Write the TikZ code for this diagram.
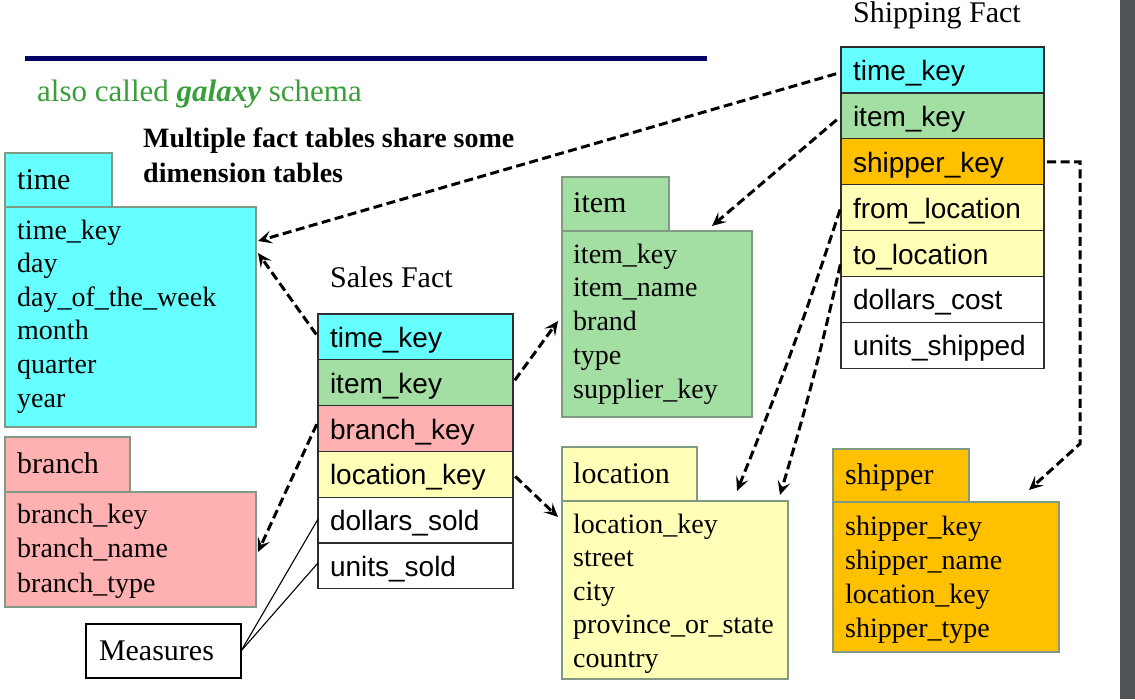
\documentclass[tikz,border=0pt]{standalone}
\usepackage{fontspec}
\setmainfont{Liberation Serif}
\setsansfont{Liberation Sans}
\usetikzlibrary{arrows.meta,calc}
\definecolor{cyanc}{HTML}{66FFFF}
\definecolor{greenc}{HTML}{A3DEA3}
\definecolor{pinkc}{HTML}{FFB0B0}
\definecolor{yellowc}{HTML}{FFFFB8}
\definecolor{orangec}{HTML}{FFC000}
\definecolor{dimborder}{HTML}{809A86}
\definecolor{factborder}{HTML}{2E2E2E}
\definecolor{navyc}{HTML}{000066}
\definecolor{titlegreen}{HTML}{3A9E3A}
\definecolor{stripgray}{HTML}{505457}
\tikzset{
  dimbox/.style={draw=dimborder, line width=2.5pt, anchor=north west, inner sep=0pt, outer sep=0pt},
  dimtitle/.style={anchor=base west, inner sep=0pt, font=\fontsize{30}{36}\selectfont},
  dimrow/.style={anchor=base west, inner sep=0pt, font=\fontsize{28}{34}\selectfont},
  factrow/.style={draw=factborder, line width=1.3pt, anchor=north west, inner xsep=12pt, inner ysep=0pt,
    outer sep=0pt, text width=171pt, align=left, minimum height=45.8pt, text height=21pt, text depth=0pt,
    font=\sffamily\fontsize{28}{34}\selectfont},
  shiprow/.style={factrow, text width=179pt, minimum height=45.9pt},
  facttitle/.style={anchor=base west, inner sep=0pt, font=\fontsize{30}{36}\selectfont},
  fk/.style={draw=black, line width=3pt, dash pattern=on 9pt off 4.5pt,
    -{Stealth[length=14pt,width=13pt,inset=6pt]}, shorten <=3pt},
  measline/.style={draw=black, line width=1.1pt}
}
\begin{document}
\begin{tikzpicture}[x=1pt,y=-1pt]
\useasboundingbox (0,0) rectangle (1135,699);
\fill[white] (0,0) rectangle (1135,699);
\fill[stripgray] (1120,0) rectangle (1135,699);
% header
\fill[navyc] (25,56) rectangle (707,61);
\node[anchor=base west, inner sep=0pt, text=titlegreen, font=\fontsize{31}{36}\selectfont] (galaxy) at (37,101) {also called \textbf{\textit{galaxy}} schema};
\node[anchor=base west, inner sep=0pt, font=\bfseries\fontsize{28}{35}\selectfont] (multi1) at (143,147) {Multiple fact tables share some};
\node[anchor=base west, inner sep=0pt, font=\bfseries\fontsize{28}{35}\selectfont] (multi2) at (143,182) {dimension tables};
% time
\node[dimbox, fill=cyanc, minimum width=251pt, minimum height=220pt] (timebody) at (5,207) {};
\node[dimbox, fill=cyanc, minimum width=107pt, minimum height=54pt] (timetab) at (5,153) {};
\node[dimtitle] (timetitle) at (17,189) {time};
\foreach \t [count=\i] in {time\_key, day, day\_of\_the\_week, month, quarter, year}
  \node[dimrow] (timer\i) at ({17},{239+33.6*(\i-1)}) {\t};
% branch
\node[dimbox, fill=pinkc, minimum width=251pt, minimum height=115pt] (branchbody) at (5,492) {};
\node[dimbox, fill=pinkc, minimum width=125pt, minimum height=55pt] (branchtab) at (5,437) {};
\node[dimtitle] (branchtitle) at (17,473) {branch};
\foreach \t [count=\i] in {branch\_key, branch\_name, branch\_type}
  \node[dimrow] (branchr\i) at ({17},{523+34.5*(\i-1)}) {\t};
% item
\node[dimbox, fill=greenc, minimum width=190pt, minimum height=186pt] (itembody) at (562,231) {};
\node[dimbox, fill=greenc, minimum width=107pt, minimum height=54pt] (itemtab) at (562,177) {};
\node[dimtitle] (itemtitle) at (573,212) {item};
\foreach \t [count=\i] in {item\_key, item\_name, brand, type, supplier\_key}
  \node[dimrow] (itemr\i) at ({573},{263+33.75*(\i-1)}) {\t};
% location
\node[dimbox, fill=yellowc, minimum width=226pt, minimum height=178pt] (locbody) at (562,501) {};
\node[dimbox, fill=yellowc, minimum width=135pt, minimum height=54pt] (loctab) at (562,447) {};
\node[dimtitle] (loctitle) at (573,483) {location};
\foreach \t [count=\i] in {location\_key, street, city, province\_or\_state, country}
  \node[dimrow] (locr\i) at ({573},{533+33.5*(\i-1)}) {\t};
% shipper
\node[dimbox, fill=orangec, minimum width=226pt, minimum height=150pt] (shipbody) at (833,502) {};
\node[dimbox, fill=orangec, minimum width=136pt, minimum height=53pt] (shiptab) at (833,449) {};
\node[dimtitle] (shiptitle) at (845,484) {shipper};
\foreach \t [count=\i] in {shipper\_key, shipper\_name, location\_key, shipper\_type}
  \node[dimrow] (shipr\i) at ({845},{535+34*(\i-1)}) {\t};
% Sales fact
\node[facttitle] (salestitle) at (330,287) {Sales Fact};
\node[factrow, fill=cyanc] (sf1) at (318,314) {time\_key};
\node[factrow, fill=greenc] (sf2) at (sf1.south west) {item\_key};
\node[factrow, fill=pinkc] (sf3) at (sf2.south west) {branch\_key};
\node[factrow, fill=yellowc] (sf4) at (sf3.south west) {location\_key};
\node[factrow, fill=white] (sf5) at (sf4.south west) {dollars\_sold};
\node[factrow, fill=white] (sf6) at (sf5.south west) {units\_sold};
% Shipping fact
\node[facttitle] (shiptitlef) at (853,22) {Shipping Fact};
\node[shiprow, fill=cyanc] (sh1) at (841,47) {time\_key};
\node[shiprow, fill=greenc] (sh2) at (sh1.south west) {item\_key};
\node[shiprow, fill=orangec] (sh3) at (sh2.south west) {shipper\_key};
\node[shiprow, fill=yellowc] (sh4) at (sh3.south west) {from\_location};
\node[shiprow, fill=yellowc] (sh5) at (sh4.south west) {to\_location};
\node[shiprow, fill=white] (sh6) at (sh5.south west) {dollars\_cost};
\node[shiprow, fill=white] (sh7) at (sh6.south west) {units\_shipped};
% Measures
\node[draw=black, line width=2.2pt, anchor=north west, minimum width=155pt, minimum height=54pt, inner xsep=13pt, inner ysep=0pt, text width=129pt, align=left, outer sep=0pt, font=\fontsize{30}{36}\selectfont] (meas) at (86,624) {Measures};
\draw[measline] (meas.east) -- ($(sf5.west)+(0,-1)$);
\draw[measline] (meas.east) -- ($(sf6.west)+(0,-3)$);
% foreign keys
\draw[fk] ($(sh1.west)+(-2,3)$) -- ($(timebody.north east)+(2,34)$);
\draw[fk] (sf1.west) -- ($(timebody.north east)+(2,46)$);
\draw[fk] ($(sh2.west)+(-2,2)$) -- ($(itembody.north west)+(150,-5)$);
\draw[fk] (sf2.east) -- ($(itembody.north west)+(-4,90)$);
\draw[fk] ($(sf3.west)+(0,-7)$) -- ($(branchbody.north east)+(2,60)$);
\draw[fk] (sf4.east) -- ($(locbody.north west)+(-4,16)$);
\draw[fk] ($(sh4.west)+(0,-1)$) to[bend left=2] ($(locbody.north west)+(175,-10)$);
\draw[fk] ($(sh5.west)+(0,8)$) to[bend left=2] ($(locbody.north east)+(-8,-6)$);
\draw[fk] (sh3.east) -- ++(36,0) -- ++(0,282) -- ($(shipbody.north east)+(-30,-12)$);
\end{tikzpicture}
\end{document}
